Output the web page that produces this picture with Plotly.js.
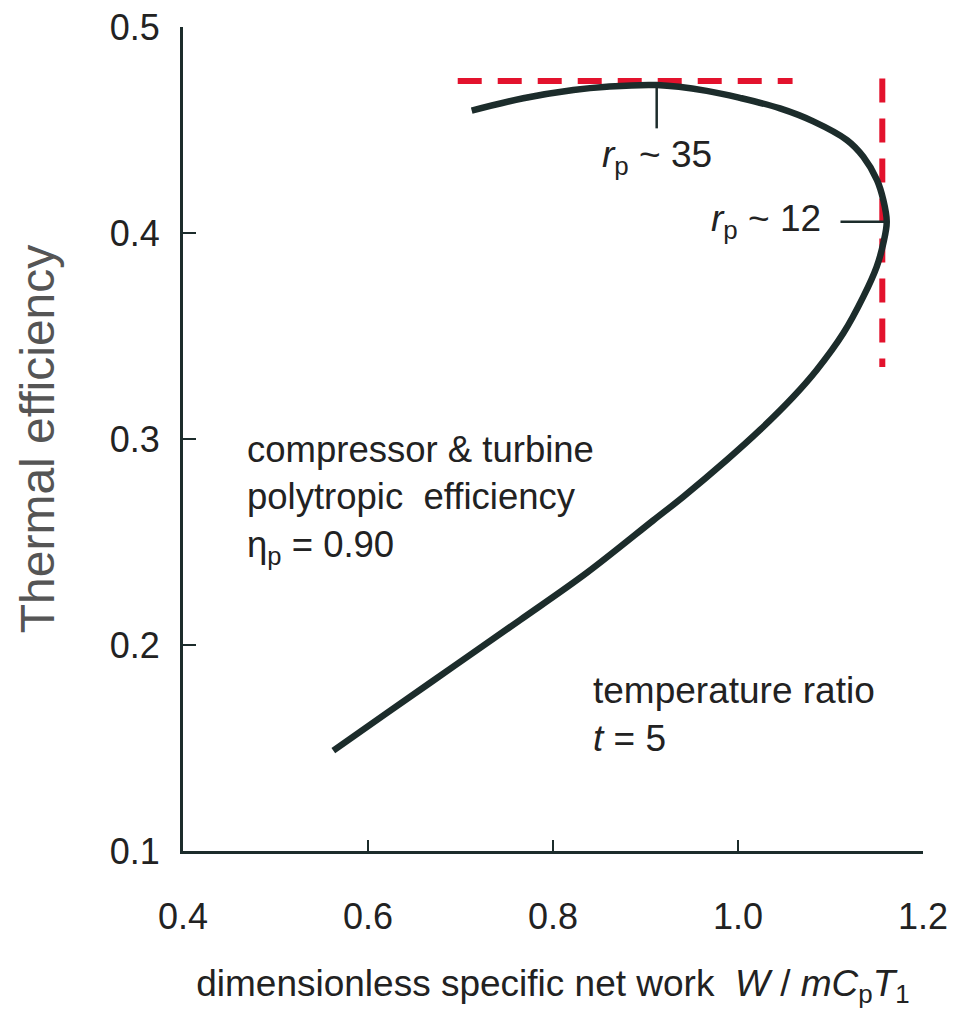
<!DOCTYPE html>
<html><head><meta charset="utf-8">
<script src="https://cdn.plot.ly/plotly-3.0.1.min.js"></script>
<style>html,body{margin:0;padding:0;background:#fff}#chart{width:959px;height:1019px}</style>
</head><body><div id="chart"></div>
<script>
// Curve: thermal efficiency vs dimensionless specific net work (t = 5, eta_p = 0.90)
const workX = [0.5625, 0.6202, 0.6922, 0.7643, 0.8364, 0.9084, 0.9409, 0.9878, 1.0238, 1.0598, 1.0851, 1.1138, 1.1355, 1.1499, 1.1571, 1.1608, 1.1571, 1.1503, 1.1355, 1.1178, 1.0814, 1.0454, 1.0022, 0.9662, 0.9121, 0.8580, 0.8220, 0.7679, 0.7121];
const effY  = [0.1487, 0.1669, 0.1895, 0.2121, 0.2350, 0.2605, 0.2720, 0.2898, 0.3044, 0.3205, 0.3335, 0.3513, 0.3691, 0.3836, 0.3950, 0.4055, 0.4160, 0.4257, 0.4370, 0.4451, 0.4542, 0.4605, 0.4656, 0.4690, 0.4718, 0.4710, 0.4694, 0.4654, 0.4594];
// Red dashed reference lines (max efficiency, max work)
const maxEffLineX = [0.697, 1.059];
const maxEffLineY = [0.4738, 0.4738];
const maxWorkLineX = [1.156, 1.156];
const maxWorkLineY = [0.475, 0.335];
// Ticks
const xTickVals = [0.4, 0.6, 0.8, 1.0, 1.2];
const xTickText = ['0.4', '0.6', '0.8', '1.0', '1.2'];
const yTickVals = [0.1, 0.2, 0.3, 0.4, 0.5];
const yTickText = ['0.1', '0.2', '0.3', '0.4', '0.5'];
// Labelled points on the curve (indices into the arrays above)
const rp35Index = 24;
const rp12Index = 15;

const FONT = 'Liberation Sans, Arial, Helvetica, sans-serif';
const INK = '#1c2c2b';
const TXT = '#222';
const RED = '#e3122d';

const traces = [
  {x: maxEffLineX, y: maxEffLineY, mode: 'lines', line: {color: RED, width: 6, dash: '24px,16px'}, hoverinfo: 'skip'},
  {x: maxWorkLineX, y: maxWorkLineY, mode: 'lines', line: {color: RED, width: 6, dash: '24px,16px'}, hoverinfo: 'skip'},
  {x: workX, y: effY, mode: 'lines', line: {color: INK, width: 6.5, shape: 'spline', smoothing: 1}}
];

const layout = {
  width: 959, height: 1019,
  margin: {l: 183, r: 36, t: 27, b: 168},
  paper_bgcolor: '#fff', plot_bgcolor: '#fff',
  showlegend: false,
  font: {family: FONT, color: TXT},
  xaxis: {
    range: [0.4, 1.2], tickvals: xTickVals, ticktext: xTickText,
    showgrid: false, zeroline: false, showline: true, linecolor: INK, linewidth: 3,
    ticks: 'inside', ticklen: 11, tickwidth: 2.5, tickcolor: INK,
    tickfont: {size: 36, color: TXT, family: FONT}, ticklabelstandoff: 32,
    title: {text: 'dimensionless specific net work  <i>W</i> / <i>m</i><i>C</i><sub>p</sub><i>T</i><sub>1</sub>',
            font: {size: 37, color: TXT, family: FONT}, standoff: 34}
  },
  yaxis: {
    range: [0.1, 0.5], tickvals: yTickVals, ticktext: yTickText,
    showgrid: false, zeroline: false, showline: true, linecolor: INK, linewidth: 3,
    ticks: 'inside', ticklen: 13, tickwidth: 2.5, tickcolor: INK,
    tickfont: {size: 36, color: TXT, family: FONT}, ticklabelstandoff: 13,
    title: {text: 'Thermal efficiency', font: {size: 48, color: '#555', family: FONT}, standoff: 40}
  },
  shapes: [
    {type: 'line', xref: 'x', yref: 'y', x0: workX[rp35Index], x1: workX[rp35Index], y0: effY[rp35Index], y1: effY[rp35Index] - 0.021, line: {color: INK, width: 2.5}},
    {type: 'line', xref: 'x', yref: 'y', x0: workX[rp12Index] - 0.05, x1: workX[rp12Index], y0: effY[rp12Index], y1: effY[rp12Index], line: {color: INK, width: 2.5}}
  ],
  annotations: [
    {xref: 'x', yref: 'y', x: workX[rp35Index], y: 0.437, text: '<i>r</i><sub>p</sub> ~ 35', showarrow: false, xanchor: 'center', yanchor: 'middle', font: {size: 37, color: TXT, family: FONT}},
    {xref: 'x', yref: 'y', x: 1.092, y: 0.406, text: '<i>r</i><sub>p</sub> ~ 12', showarrow: false, xanchor: 'right', yanchor: 'middle', font: {size: 37, color: TXT, family: FONT}},
    {xref: 'x', yref: 'y', x: 0.467, y: 0.2704, text: 'compressor &amp; turbine<br>polytropic  efficiency<br>η<sub>p</sub> = 0.90', showarrow: false, xanchor: 'left', yanchor: 'middle', align: 'left', font: {size: 36.5, color: TXT, family: FONT}},
    {xref: 'x', yref: 'y', x: 0.841, y: 0.1665, text: 'temperature ratio<br><i>t</i> = 5', showarrow: false, xanchor: 'left', yanchor: 'middle', align: 'left', font: {size: 37, color: TXT, family: FONT}}
  ]
};

Plotly.newPlot('chart', traces, layout, {displayModeBar: false, staticPlot: true});
</script>
</body></html>
